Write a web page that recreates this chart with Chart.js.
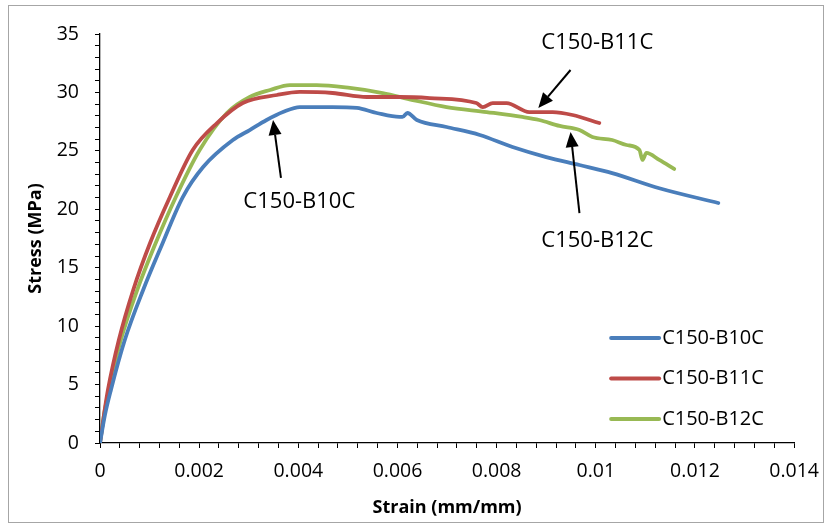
<!DOCTYPE html>
<html>
<head>
<meta charset="utf-8">
<script src="https://cdn.jsdelivr.net/npm/chart.js@4.4.1/dist/chart.umd.min.js"></script>
<style>
  html, body { margin: 0; padding: 0; background: #fff; }
  #wrap { width: 831px; height: 529px; position: relative; }
</style>
</head>
<body>
<div id="wrap"><canvas id="c" width="831" height="529"></canvas></div>
<script>
// Stress-strain curves of the three C150 specimens
const seriesNames = ['C150-B10C', 'C150-B11C', 'C150-B12C'];

const b10Strain = [0, 0.00010, 0.00022, 0.00050, 0.00087, 0.00123, 0.00167, 0.00208, 0.00268, 0.00302, 0.00336, 0.00369, 0.00403, 0.00469, 0.00518, 0.00558, 0.00604, 0.00610, 0.00620, 0.00639, 0.00699, 0.00766, 0.00832, 0.00900, 0.00967, 0.01033, 0.01128, 0.01247];
const b10Stress = [0, 2.40, 4.54, 8.81, 13.09, 16.77, 21.05, 23.62, 25.93, 26.78, 27.64, 28.32, 28.75, 28.75, 28.67, 28.24, 27.90, 27.90, 28.24, 27.64, 27.04, 26.36, 25.33, 24.47, 23.79, 23.10, 21.80, 20.54];

const b11Strain = [0, 0.00008, 0.00016, 0.00038, 0.00067, 0.00101, 0.00141, 0.00187, 0.00236, 0.00288, 0.00357, 0.00403, 0.00469, 0.00538, 0.00604, 0.00665, 0.00759, 0.00772, 0.00792, 0.00820, 0.00866, 0.00913, 0.00953, 0.01007];
const b11Stress = [0, 2.40, 4.54, 8.81, 13.09, 17.11, 21.05, 25.07, 27.38, 29.09, 29.78, 30.04, 29.95, 29.61, 29.61, 29.52, 29.09, 28.75, 29.09, 29.09, 28.32, 28.32, 28.07, 27.38];

const b12Strain = [0, 0.00008, 0.00018, 0.00042, 0.00075, 0.00109, 0.00153, 0.00201, 0.00256, 0.00302, 0.00343, 0.00383, 0.00437, 0.00504, 0.00570, 0.00631, 0.00699, 0.00780, 0.00852, 0.00886, 0.00927, 0.00967, 0.00993, 0.01033, 0.01062, 0.01088, 0.01094, 0.01102, 0.01128, 0.01158];
const b12Stress = [0, 2.40, 4.54, 8.81, 13.09, 16.77, 21.05, 25.07, 28.24, 29.61, 30.21, 30.63, 30.63, 30.38, 29.95, 29.35, 28.75, 28.32, 27.90, 27.64, 27.13, 26.78, 26.19, 25.93, 25.50, 25.07, 24.22, 24.82, 24.22, 23.45];

const seriesColors = ['#4A7EBB', '#BE4B48', '#98B954'];

// Axis ranges and tick steps
const strainMax = 0.014, strainMajor = 0.002, strainMinor = 0.0004;
const stressMax = 35, stressMajor = 5, stressMinor = 1;

// Callouts (label anchor, arrow tail, arrow tip) in data units
const calloutNames = ['C150-B10C', 'C150-B11C', 'C150-B12C'];
const calloutLabelAt = [[0.00402, 20.62], [0.01003, 34.23], [0.01003, 17.29]];
const calloutTail = [[0.00365, 22.68], [0.00949, 31.92], [0.00967, 19.68]];
const calloutTip = [[0.00349, 27.64], [0.00884, 28.67], [0.00949, 26.61]];

const FONT = '"Open Sans", "DejaVu Sans", sans-serif';

function pairs(xs, ys) { return xs.map((x, i) => ({ x: x, y: ys[i] })); }

const datasets = [
  [b10Strain, b10Stress],
  [b11Strain, b11Stress],
  [b12Strain, b12Stress]
].map((s, i) => ({
  label: seriesNames[i],
  data: pairs(s[0], s[1]),
  borderColor: seriesColors[i],
  backgroundColor: seriesColors[i],
  borderWidth: 3.8,
  borderCapStyle: 'round',
  borderJoinStyle: 'round',
  pointRadius: 0,
  cubicInterpolationMode: 'monotone',
  fill: false
}));

function drawArrow(ctx, x0, y0, x1, y1) {
  const a = Math.atan2(y1 - y0, x1 - x0);
  const hl = 15, hw = 6.5;
  const bx = x1 - hl * Math.cos(a), by = y1 - hl * Math.sin(a);
  ctx.beginPath();
  ctx.moveTo(x0, y0);
  ctx.lineTo(bx, by);
  ctx.lineWidth = 2;
  ctx.stroke();
  ctx.beginPath();
  ctx.moveTo(x1, y1);
  ctx.lineTo(bx + hw * Math.sin(a), by - hw * Math.cos(a));
  ctx.lineTo(bx - hw * Math.sin(a), by + hw * Math.cos(a));
  ctx.closePath();
  ctx.fill();
}

const decor = {
  id: 'decor',
  beforeDraw(chart) {
    const ctx = chart.ctx;
    ctx.save();
    ctx.fillStyle = '#fff';
    ctx.fillRect(0, 0, chart.width, chart.height);
    ctx.strokeStyle = '#a6a6a6';
    ctx.lineWidth = 1;
    ctx.strokeRect(8.5, 5.5, 815, 517);
    ctx.restore();
  },
  afterDatasetsDraw(chart) {
    const ctx = chart.ctx, xs = chart.scales.x, ys = chart.scales.y;
    ctx.save();
    ctx.strokeStyle = '#000';
    ctx.fillStyle = '#000';
    calloutNames.forEach((name, i) => {
      drawArrow(ctx,
        xs.getPixelForValue(calloutTail[i][0]), ys.getPixelForValue(calloutTail[i][1]),
        xs.getPixelForValue(calloutTip[i][0]), ys.getPixelForValue(calloutTip[i][1]));
      ctx.font = '22px ' + FONT;
      ctx.textAlign = 'center';
      ctx.textBaseline = 'middle';
      ctx.fillText(name, xs.getPixelForValue(calloutLabelAt[i][0]), ys.getPixelForValue(calloutLabelAt[i][1]));
    });
    ctx.restore();
  },
  afterDraw(chart) {
    // legend inside the plot, lower right
    const ctx = chart.ctx, area = chart.chartArea;
    const x0 = area.right - 183, y0 = area.bottom - 105;
    ctx.save();
    chart.data.datasets.forEach((ds, i) => {
      const y = y0 + i * 40.5;
      ctx.strokeStyle = ds.borderColor;
      ctx.lineWidth = 4;
      ctx.lineCap = 'round';
      ctx.beginPath();
      ctx.moveTo(x0, y);
      ctx.lineTo(x0 + 48, y);
      ctx.stroke();
      ctx.fillStyle = '#000';
      ctx.font = '20px ' + FONT;
      ctx.textAlign = 'left';
      ctx.textBaseline = 'middle';
      ctx.fillText(ds.label, x0 + 51, y);
    });
    ctx.restore();
  }
};

function fmtStrain(v) {
  return parseFloat(v.toFixed(4)).toString();
}

new Chart(document.getElementById('c'), {
  type: 'line',
  data: { datasets: datasets },
  plugins: [decor],
  options: {
    responsive: false,
    animation: false,
    devicePixelRatio: 1,
    layout: { padding: { left: 8, top: 34, right: 36, bottom: 6 } },
    plugins: { legend: { display: false }, tooltip: { enabled: false } },
    scales: {
      x: {
        type: 'linear',
        min: 0,
        max: strainMax,
        afterFit(s) { s.height = 80; },
        ticks: {
          stepSize: strainMinor,
          autoSkip: false,
          maxRotation: 0,
          padding: 12,
          color: '#000',
          font: { family: FONT, size: 19.5 },
          callback(v) {
            const k = Math.round(v / strainMinor);
            return k % Math.round(strainMajor / strainMinor) === 0 ? fmtStrain(v) : '';
          }
        },
        grid: { drawOnChartArea: false, drawTicks: true, tickLength: 5, color: '#000', lineWidth: 1 },
        border: { display: true, color: '#000', width: 1.3 },
        title: {
          display: true,
          text: 'Strain (mm/mm)',
          color: '#000',
          font: { family: FONT, size: 18, weight: 'bold' },
          padding: { top: 0, bottom: 4 }
        }
      },
      y: {
        type: 'linear',
        min: 0,
        max: stressMax,
        afterFit(s) { s.width = 92; },
        ticks: {
          stepSize: stressMinor,
          autoSkip: false,
          padding: 16,
          color: '#000',
          font: { family: FONT, size: 19.5 },
          callback(v) {
            return Math.round(v) % stressMajor === 0 ? String(Math.round(v)) : '';
          }
        },
        grid: { drawOnChartArea: false, drawTicks: true, tickLength: 5, color: '#000', lineWidth: 1 },
        border: { display: true, color: '#000', width: 1.3 },
        title: {
          display: true,
          text: 'Stress (MPa)',
          color: '#000',
          font: { family: FONT, size: 18, weight: 'bold' },
          padding: { top: 17, bottom: 0 }
        }
      }
    }
  }
});
</script>
</body>
</html>
